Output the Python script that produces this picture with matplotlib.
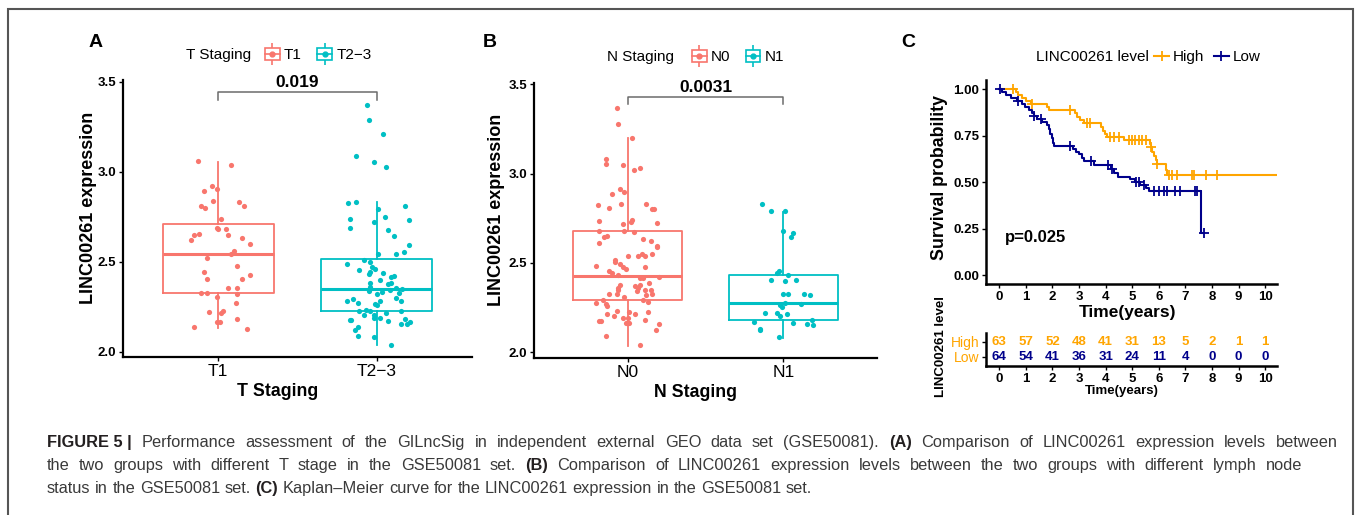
import numpy as np
import matplotlib
matplotlib.use('Agg')
import matplotlib.pyplot as plt
from matplotlib.lines import Line2D
from matplotlib.patches import Rectangle
from matplotlib.legend_handler import HandlerTuple
from matplotlib import font_manager

plt.rcParams['font.family'] = ['Liberation Sans', 'DejaVu Sans']
installed = {f.name for f in font_manager.fontManager.ttflist}
NARROW = 'Liberation Sans Narrow' if 'Liberation Sans Narrow' in installed else 'Liberation Sans'

RED = '#F8766D'
TEAL = '#00BFC4'
ORANGE = '#FFA500'
NAVY = '#00008B'

# ---------------- panel A : T staging ----------------
t_groups = ['T1', 'T2\u22123']
t1_expr = [3.061, 3.037, 2.921, 2.904, 2.891, 2.833, 2.836, 2.811, 2.800, 2.809, 2.736, 2.686,
           2.682, 2.680, 2.656, 2.647, 2.650, 2.619, 2.630, 2.598, 2.558, 2.544, 2.522, 2.478,
           2.441, 2.426, 2.406, 2.402, 2.354, 2.352, 2.326, 2.324, 2.320, 2.306, 2.272, 2.222,
           2.224, 2.215, 2.183, 2.165, 2.165, 2.136, 2.126]
t1_jit = [-0.13, 0.08, -0.04, -0.01, -0.09, 0.13, -0.03, -0.11, -0.08, 0.16, 0.02, -0.01,
          0.00, 0.05, -0.12, -0.15, 0.06, -0.17, 0.15, 0.20, 0.10, 0.08, -0.07, 0.12,
          -0.09, 0.20, -0.07, 0.15, 0.06, 0.12, -0.11, -0.07, 0.12, -0.01, 0.11, -0.06,
          0.03, 0.02, 0.12, -0.01, 0.01, -0.15, 0.18]
t23_expr = [3.372, 3.286, 3.208, 3.086, 3.054, 3.026, 2.824, 2.833, 2.794, 2.809, 2.739, 2.747,
            2.722, 2.732, 2.687, 2.674, 2.643, 2.591, 2.556, 2.543, 2.543, 2.511, 2.498, 2.485,
            2.456, 2.472, 2.461, 2.444, 2.433, 2.435, 2.422, 2.417, 2.400, 2.380, 2.374, 2.380,
            2.361, 2.356, 2.348, 2.343, 2.333, 2.339, 2.326, 2.322, 2.296, 2.280, 2.293, 2.269,
            2.280, 2.267, 2.259, 2.282, 2.224, 2.233, 2.228, 2.217, 2.228, 2.206, 2.202, 2.189,
            2.186, 2.176, 2.176, 2.169, 2.183, 2.154, 2.152, 2.163, 2.136, 2.122, 2.089, 2.083,
            2.039]
t23_jit = [-0.06, -0.05, 0.04, -0.13, -0.02, 0.06, -0.18, -0.13, 0.01, 0.18, -0.17, 0.05,
           -0.02, 0.20, -0.17, 0.07, 0.11, 0.20, 0.17, 0.12, 0.01, -0.08, -0.04, -0.19,
           -0.11, -0.03, -0.01, -0.04, -0.05, 0.04, 0.11, 0.09, 0.02, 0.09, 0.07, -0.04,
           -0.04, 0.12, 0.16, 0.08, 0.03, -0.05, 0.14, 0.00, 0.12, -0.19, -0.15, -0.12,
           0.02, -0.01, 0.00, 0.15, -0.11, -0.07, -0.04, 0.06, 0.15, -0.08, -0.02, 0.02,
           -0.02, -0.17, -0.16, 0.07, 0.18, 0.15, 0.19, 0.21, -0.12, -0.14, -0.12, -0.02,
           0.09]
# box statistics: lower whisker, Q1, median, Q3, upper whisker
t1_box = [2.13, 2.324, 2.544, 2.709, 3.056]
t23_box = [2.04, 2.226, 2.348, 2.517, 2.83]
t_pval = '0.019'

# ---------------- panel B : N staging ----------------
n_groups = ['N0', 'N1']
n0_expr = [3.365, 3.279, 3.199, 3.082, 3.055, 3.048, 3.022, 3.033, 2.916, 2.897, 2.886, 2.823,
           2.806, 2.830, 2.830, 2.804, 2.804, 2.733, 2.720, 2.731, 2.742, 2.725, 2.681, 2.681,
           2.675, 2.644, 2.649, 2.613, 2.636, 2.623, 2.595, 2.588, 2.552, 2.552, 2.541, 2.541,
           2.537, 2.518, 2.507, 2.492, 2.479, 2.464, 2.481, 2.476, 2.455, 2.442, 2.431, 2.417,
           2.417, 2.423, 2.377, 2.362, 2.371, 2.377, 2.386, 2.358, 2.343, 2.350, 2.349, 2.347,
           2.325, 2.325, 2.309, 2.326, 2.319, 2.294, 2.293, 2.278, 2.269, 2.280, 2.259, 2.231,
           2.224, 2.214, 2.227, 2.214, 2.205, 2.190, 2.190, 2.181, 2.177, 2.175, 2.164, 2.164,
           2.160, 2.125, 2.090, 2.039]
n0_jit = [-0.07, -0.06, 0.03, -0.14, -0.14, -0.03, 0.04, 0.08, -0.05, -0.02, -0.10, -0.19,
          -0.12, -0.04, 0.12, 0.16, 0.17, -0.18, -0.03, 0.02, 0.03, 0.19, -0.18, -0.02,
          0.04, -0.15, -0.13, -0.18, 0.10, 0.15, 0.19, 0.19, 0.16, 0.09, 0.11, 0.07,
          0.00, -0.08, -0.08, -0.05, -0.03, -0.01, -0.20, 0.11, -0.12, -0.10, -0.06, 0.08,
          0.10, 0.20, -0.05, -0.06, 0.05, 0.08, 0.14, 0.07, 0.06, 0.11, 0.15, -0.06,
          -0.07, -0.12, -0.02, 0.16, 0.12, 0.10, -0.16, -0.20, -0.14, 0.13, -0.13, -0.07,
          0.01, 0.05, 0.13, -0.13, -0.09, -0.03, 0.00, 0.11, -0.18, -0.17, -0.01, 0.01,
          0.20, 0.18, -0.14, 0.08]
n1_expr = [2.828, 2.792, 2.789, 2.677, 2.669, 2.645, 2.457, 2.446, 2.431, 2.403, 2.397, 2.406,
           2.326, 2.326, 2.328, 2.319, 2.278, 2.263, 2.255, 2.269, 2.203, 2.220, 2.220, 2.214,
           2.183, 2.170, 2.130, 2.127, 2.084, 2.166, 2.157, 2.153]
n1_jit = [-0.14, -0.08, 0.01, 0.00, 0.06, 0.05, -0.03, -0.04, 0.03, -0.08, 0.01, 0.08,
          0.00, 0.03, 0.13, 0.17, 0.01, -0.02, -0.01, 0.11, -0.02, -0.12, -0.04, 0.02,
          0.18, -0.19, -0.15, -0.15, -0.03, 0.06, 0.15, 0.19]
n0_box = [2.037, 2.293, 2.427, 2.679, 3.198]
n1_box = [2.082, 2.181, 2.278, 2.431, 2.785]
n_pval = '0.0031'

# ---------------- panel C : Kaplan-Meier ----------------
high_time = [0, 0.62, 0.72, 0.85, 1.0, 1.2, 1.8, 1.85, 2.86, 2.93, 3.04, 3.2, 3.82, 3.9, 3.97,
             4.05, 4.7, 5.66, 5.7, 5.75, 5.81, 5.88, 5.93, 6.25, 6.3, 10.43]
high_surv = [1.0, 0.984, 0.968, 0.952, 0.937, 0.921, 0.905, 0.889, 0.871, 0.853, 0.835, 0.817,
             0.797, 0.777, 0.757, 0.744, 0.728, 0.708, 0.688, 0.665, 0.642, 0.619, 0.598,
             0.567, 0.537, 0.537]
high_cens = [0.5, 1.22, 2.67, 3.3, 3.42, 4.18, 4.3, 4.5, 4.87, 5.0, 5.12, 5.25, 5.37, 5.5,
             5.72, 5.94, 6.38, 6.5, 6.7, 7.26, 7.32, 7.76, 8.2]
low_time = [0, 0.1, 0.25, 0.45, 0.65, 0.85, 0.97, 1.1, 1.22, 1.3, 1.42, 1.6, 1.78, 1.85, 1.9,
            1.97, 2.02, 2.06, 2.78, 2.9, 3.0, 3.1, 3.2, 3.55, 4.2, 4.32, 4.45, 4.9, 5.1, 5.3,
            5.5, 5.62, 7.57, 7.7]
low_surv = [1.0, 0.984, 0.969, 0.953, 0.937, 0.921, 0.905, 0.889, 0.873, 0.857, 0.841, 0.825,
            0.808, 0.784, 0.761, 0.737, 0.713, 0.697, 0.68, 0.665, 0.65, 0.632, 0.615, 0.595,
            0.573, 0.551, 0.53, 0.515, 0.5, 0.485, 0.47, 0.455, 0.228, 0.228]
low_cens = [0.03, 0.7, 1.32, 1.55, 2.65, 3.45, 4.1, 4.25, 5.15, 5.25, 5.45, 5.8, 6.0, 6.18,
            6.3, 6.6, 6.8, 7.35, 7.45, 7.7]
risk_years = [0, 1, 2, 3, 4, 5, 6, 7, 8, 9, 10]
high_risk = [63, 57, 52, 48, 41, 31, 13, 5, 2, 1, 1]
low_risk = [64, 54, 41, 36, 31, 24, 11, 4, 0, 0, 0]
km_pval = 'p=0.025'

W, H = 1358, 515
fig = plt.figure(figsize=(W / 100, H / 100), dpi=100)
bg = fig.add_axes([0, 0, 1, 1], zorder=-5)
bg.axis('off')


def px_rect(x0, y_top, x1, y_bot):
    return [x0 / W, 1 - y_bot / H, (x1 - x0) / W, (y_bot - y_top) / H]


def box_stats(vals, label):
    lo, q1, med, q3, hi = vals
    return dict(whislo=lo, q1=q1, med=med, q3=q3, whishi=hi, fliers=[], label=label)


def box_key(c):
    return (Line2D([], [], color=c, marker='|', ms=16, mew=1.2, ls='none'),
            Rectangle((0, 0), 1, 1, facecolor='white', edgecolor=c, lw=1.2),
            Line2D([], [], color=c, lw=1.2, marker='o', ms=3.5))


def box_panel(rect, ylim, groups, vals, jits, boxes, pval, bracket, ylab_x, xlab_x, xtitle):
    ax = fig.add_axes(rect)
    for i, (g, v, j, b, c) in enumerate(zip(groups, vals, jits, boxes, [RED, TEAL])):
        ax.bxp([box_stats(b, g)], positions=[i + 1], widths=0.7, showcaps=False,
               showfliers=False,
               boxprops=dict(color=c, lw=1.3), whiskerprops=dict(color=c, lw=1.3),
               medianprops=dict(color=c, lw=2.2), zorder=2)
        ax.scatter(np.array(j) + i + 1, v, s=14, color=c, linewidths=0, zorder=3)
    lo, hi = bracket
    ax.plot([1, 1, 2, 2], [lo, hi, hi, lo], color='#6b6b6b', lw=1.1)
    ax.text(1.5, hi + 0.008, pval, ha='center', va='bottom', fontsize=12.5, fontweight='bold')
    ax.set_xlim(0.4, 2.6)
    ax.set_ylim(*ylim)
    ax.set_xticks([1, 2])
    ax.set_xticklabels(groups, fontsize=12.5)
    ax.set_yticks([2.0, 2.5, 3.0, 3.5])
    ax.set_yticklabels(['2.0', '2.5', '3.0', '3.5'], fontsize=9.5, fontweight='bold')
    for s in ['top', 'right']:
        ax.spines[s].set_visible(False)
    for s in ['left', 'bottom']:
        ax.spines[s].set_linewidth(1.6)
    ax.tick_params(length=3, width=1, pad=2)
    ax.set_ylabel('LINC00261 expression', fontsize=13, fontweight='bold')
    ax.yaxis.set_label_coords(ylab_x, 0.54)
    ax.set_xlabel(xtitle, fontsize=12.8, fontweight='bold')
    ax.xaxis.set_label_coords(xlab_x, -0.095)
    return ax


axA = box_panel(px_rect(123, 80, 472, 357), (1.971, 3.509), t_groups,
                [t1_expr, t23_expr], [t1_jit, t23_jit], [t1_box, t23_box],
                t_pval, (3.398, 3.444), -0.075, 0.444, 'T Staging')
axB = box_panel(px_rect(534, 83.3, 877, 358.3), (1.966, 3.506), n_groups,
                [n0_expr, n1_expr], [n0_jit, n1_jit], [n0_box, n1_box],
                n_pval, (3.388, 3.43), -0.085, 0.472, 'N Staging')

# legends on top of the two box panels
for title, tx, lx, ty, labels in [('T Staging', 186, 265, 55, t_groups),
                                  ('N Staging', 607, 692, 57, n_groups)]:
    fig.text(tx / W, 1 - ty / H, title, fontsize=11, va='center', ha='left')
    fig.legend([box_key(RED), box_key(TEAL)], labels,
               handler_map={tuple: HandlerTuple(ndivide=1, pad=0)},
               loc='center left', bbox_to_anchor=(lx / W, 1 - ty / H), ncol=2,
               frameon=False, fontsize=11, handlelength=0.95, handleheight=0.8,
               handletextpad=0.3, columnspacing=1.0, borderpad=0, borderaxespad=0)

# ---------------- KM curve ----------------
axC = fig.add_axes(px_rect(986, 80, 1276.7, 284.3))


def surv_at(times, surv, pts):
    idx = np.searchsorted(times, pts, side='right') - 1
    return np.asarray(surv)[idx]


for t, s, cen, c in [(high_time, high_surv, high_cens, ORANGE),
                     (low_time, low_surv, low_cens, NAVY)]:
    axC.step(t, s, where='post', color=c, lw=1.5)
    axC.plot(cen, surv_at(t, s, cen), ls='none', marker='+', ms=7, mew=1.3, color=c)
axC.text(0.2, 0.2, km_pval, fontsize=12, fontweight='bold', va='center', ha='left')
axC.set_xlim(-0.5, 10.43)
axC.set_ylim(-0.05, 1.05)
axC.set_xticks(risk_years)
axC.set_xticklabels([str(v) for v in risk_years], fontsize=9.5, fontweight='bold',
                    family=[NARROW, 'Liberation Sans'])
axC.set_yticks([0, 0.25, 0.5, 0.75, 1.0])
axC.set_yticklabels(['0.00', '0.25', '0.50', '0.75', '1.00'], fontsize=9.5, fontweight='bold',
                    family=[NARROW, 'Liberation Sans'])
for s in ['top', 'right']:
    axC.spines[s].set_visible(False)
for s in ['left', 'bottom']:
    axC.spines[s].set_linewidth(1.8)
axC.tick_params(length=3, width=1, pad=2)
axC.set_ylabel('Survival probability', fontsize=12.8, fontweight='bold')
axC.yaxis.set_label_coords(-0.131, 0.523)
axC.set_xlabel('Time(years)', fontsize=12.5, fontweight='bold')
axC.xaxis.set_label_coords(0.487, -0.10)

fig.text(1036 / W, 1 - 57 / H, 'LINC00261 level', fontsize=11, va='center', ha='left')
fig.legend([Line2D([], [], color=ORANGE, lw=1.5, marker='+', ms=7, mew=1.3),
            Line2D([], [], color=NAVY, lw=1.5, marker='+', ms=7, mew=1.3)],
           ['High', 'Low'], loc='center left', bbox_to_anchor=(1154 / W, 1 - 57 / H),
           ncol=2, frameon=False, fontsize=11, handlelength=1.0, handletextpad=0.25,
           columnspacing=0.6, borderpad=0, borderaxespad=0)

# ---------------- risk table ----------------
axT = fig.add_axes(px_rect(986, 333, 1276.7, 366))
for yr, h, l in zip(risk_years, high_risk, low_risk):
    axT.text(yr, 1, str(h), color=ORANGE, ha='center', va='center', fontsize=9.5,
             fontweight='bold')
    axT.text(yr, 0, str(l), color=NAVY, ha='center', va='center', fontsize=9.5,
             fontweight='bold')
axT.set_xlim(-0.5, 10.43)
axT.set_ylim(-0.6, 1.6)
axT.set_xticks(risk_years)
axT.set_xticklabels([str(v) for v in risk_years], fontsize=9.5, fontweight='bold',
                    family=[NARROW, 'Liberation Sans'])
axT.set_yticks([1, 0])
axT.set_yticklabels(['High', 'Low'], fontsize=10)
for lab in axT.get_yticklabels():
    lab.set_color(ORANGE)
for s in ['top', 'right']:
    axT.spines[s].set_visible(False)
for s in ['left', 'bottom']:
    axT.spines[s].set_linewidth(1.8)
axT.tick_params(length=3, width=1, pad=2)
axT.set_ylabel('LINC00261 level', fontsize=9.5, fontweight='bold')
axT.yaxis.set_label_coords(-0.135, 0.576)
axT.set_xlabel('Time(years)', fontsize=9.5, fontweight='bold')
axT.xaxis.set_label_coords(0.466, -0.58)

# panel letters
for letter, x in [('A', 89), ('B', 483), ('C', 901)]:
    fig.text(x / W, 1 - 47 / H, letter, fontsize=14, fontweight='bold', va='baseline')

# frame round the figure
bg.add_patch(Rectangle((8 / W, -0.02), 1345 / W, 1.02 - 9 / H, transform=fig.transFigure,
                       fill=False, edgecolor='#555555', lw=1.5))

# caption, justified like the journal layout (last line left ragged)
CAP_FS = 11.8
CAP_X = 47
caption = [
    (447, 1338, [('FIGURE 5 |', True),
                 ('Performance assessment of the GILncSig in independent external GEO data set (GSE50081).', False),
                 ('(A)', True), ('Comparison of LINC00261 expression levels between', False)]),
    (470, 1302, [('the two groups with different T stage in the GSE50081 set.', False), ('(B)', True),
                 ('Comparison of LINC00261 expression levels between the two groups with different lymph node', False)]),
    (493, None, [('status in the GSE50081 set.', False), ('(C)', True),
                 ('Kaplan\u2013Meier curve for the LINC00261 expression in the GSE50081 set.', False)]),
]
renderer = fig.canvas.get_renderer()
space_px = 0.278 * CAP_FS * 100 / 72
for y, end_x, segs in caption:
    # bold labels stay as one unit, plain text is split into words for justification
    words = []
    for txt, bold in segs:
        words += [(txt, bold)] if bold else [(w, bold) for w in txt.split(' ')]
    texts = [bg.text(0, 1 - y / H, w, transform=fig.transFigure, va='baseline', ha='left',
                     fontsize=CAP_FS, fontweight='bold' if b else 'normal',
                     color='#231F20' if b else '#3a3a3a') for w, b in words]
    widths = [t.get_window_extent(renderer).width for t in texts]
    gap = space_px if end_x is None else (end_x - CAP_X - sum(widths)) / (len(texts) - 1)
    x = CAP_X
    for t, w in zip(texts, widths):
        t.set_x(x / W)
        x += w + gap

fig.savefig('out.png', dpi=100)
